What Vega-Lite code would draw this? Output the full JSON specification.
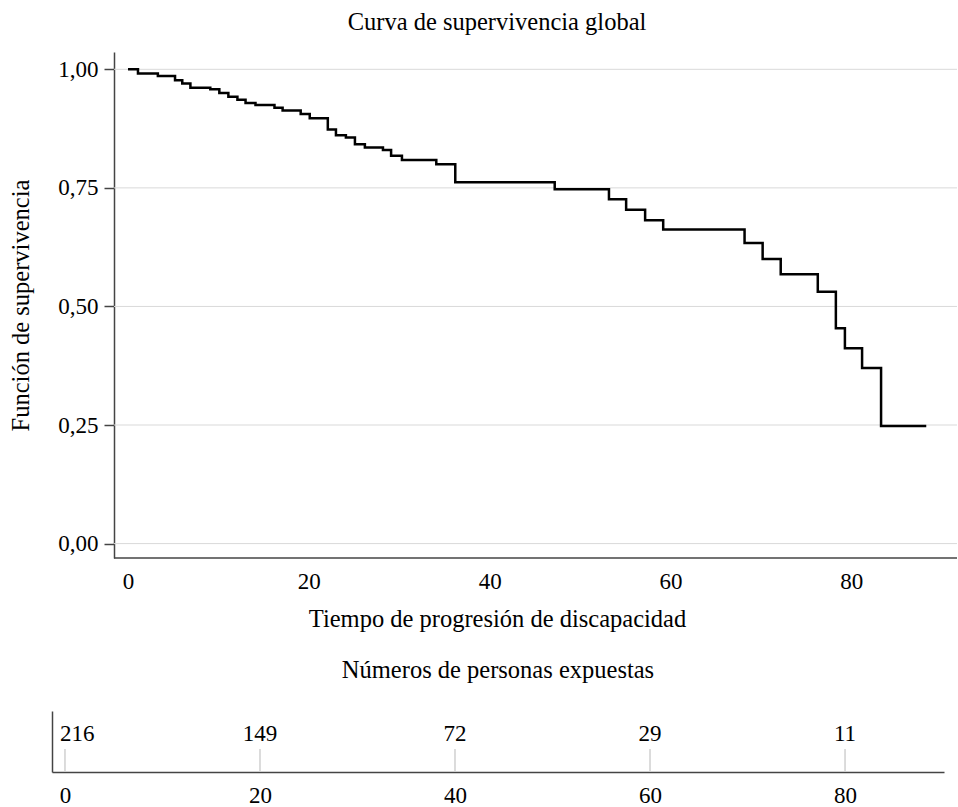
{
  "$schema": "https://vega.github.io/schema/vega-lite/v6.json",
  "padding": {"left": 8, "top": 9, "right": 0, "bottom": 0},
  "background": "white",
  "spacing": 26,
  "config": {
    "font": "Liberation Serif",
    "view": {"stroke": null},
    "axis": {
      "labelFontSize": 23,
      "titleFontSize": 24.5,
      "titleFontWeight": "normal",
      "labelColor": "black",
      "titleColor": "black",
      "domainColor": "#444",
      "tickColor": "#444",
      "domainWidth": 1.5,
      "tickWidth": 1.5
    },
    "title": {"fontSize": 24.5, "fontWeight": "normal", "color": "black"}
  },
  "vconcat": [
    {
      "width": 905,
      "height": 506,
      "title": {"text": "Curva de supervivencia global", "offset": 17, "dx": -7.5},
      "layer": [
        {
          "data": {"values": [{"s": 0}, {"s": 0.25}, {"s": 0.5}, {"s": 0.75}, {"s": 1}]},
          "mark": {"type": "rule", "color": "#d9d9d9", "strokeWidth": 1},
          "encoding": {
            "y": {"field": "s", "type": "quantitative"},
            "x": {"datum": -1.55, "type": "quantitative"},
            "x2": {"datum": 91.7}
          }
        },
        {
          "data": {"values": [{}]},
          "mark": {"type": "rule", "color": "#444", "strokeWidth": 1.5},
          "encoding": {
            "y": {"datum": -0.0304, "type": "quantitative"},
            "x": {"datum": -1.55, "type": "quantitative"},
            "x2": {"datum": 91.7}
          }
        },
        {
          "data": {
            "values": [
              {"t": 0, "s": 1.0},
              {"t": 1.1, "s": 0.991},
              {"t": 3.3, "s": 0.986},
              {"t": 5.2, "s": 0.977},
              {"t": 6.0, "s": 0.970},
              {"t": 6.9, "s": 0.961},
              {"t": 9.1, "s": 0.958},
              {"t": 10.1, "s": 0.950},
              {"t": 11.1, "s": 0.942},
              {"t": 12.1, "s": 0.936},
              {"t": 13.0, "s": 0.929},
              {"t": 14.1, "s": 0.925},
              {"t": 16.2, "s": 0.919},
              {"t": 17.1, "s": 0.913},
              {"t": 19.1, "s": 0.906},
              {"t": 20.1, "s": 0.897},
              {"t": 22.1, "s": 0.873},
              {"t": 23.0, "s": 0.861},
              {"t": 24.1, "s": 0.856},
              {"t": 25.1, "s": 0.842},
              {"t": 26.2, "s": 0.835},
              {"t": 28.2, "s": 0.830},
              {"t": 29.1, "s": 0.818},
              {"t": 30.3, "s": 0.809},
              {"t": 34.1, "s": 0.800},
              {"t": 36.2, "s": 0.762},
              {"t": 47.2, "s": 0.747},
              {"t": 53.2, "s": 0.726},
              {"t": 55.1, "s": 0.704},
              {"t": 57.2, "s": 0.682},
              {"t": 59.2, "s": 0.662},
              {"t": 68.2, "s": 0.634},
              {"t": 70.2, "s": 0.600},
              {"t": 72.2, "s": 0.568},
              {"t": 76.3, "s": 0.531},
              {"t": 78.3, "s": 0.454},
              {"t": 79.3, "s": 0.412},
              {"t": 81.2, "s": 0.370},
              {"t": 83.3, "s": 0.248},
              {"t": 88.3, "s": 0.248}
            ]
          },
          "mark": {"type": "line", "interpolate": "step-after", "color": "black", "strokeWidth": 2.5},
          "encoding": {
            "x": {
              "field": "t",
              "type": "quantitative",
              "scale": {"domain": [-8.41, 91.7], "nice": false, "zero": false},
              "axis": {
                "values": [0, 20, 40, 60, 80],
                "ticks": false,
                "grid": false,
                "domain": false,
                "title": "Tiempo de progresión de discapacidad",
                "titleX": 445,
                "labelPadding": 12,
                "titlePadding": 14
              }
            },
            "y": {
              "field": "s",
              "type": "quantitative",
              "scale": {"domain": [-0.0304, 1.0365], "nice": false, "zero": false},
              "axis": {
                "values": [0, 0.25, 0.5, 0.75, 1],
                "labelExpr": "replace(format(datum.value, '.2f'), '.', ',')",
                "offset": -62,
                "tickSize": 10,
                "labelPadding": 6,
                "grid": false,
                "title": "Función de supervivencia",
                "titlePadding": 24
              }
            }
          }
        }
      ]
    },
    {
      "width": 892,
      "height": 61,
      "title": {"text": "Números de personas expuestas", "offset": 28},
      "data": {
        "values": [
          {"t": 0, "n": 216},
          {"t": 20, "n": 149},
          {"t": 40, "n": 72},
          {"t": 60, "n": 29},
          {"t": 80, "n": 11}
        ]
      },
      "encoding": {
        "x": {
          "field": "t",
          "type": "quantitative",
          "scale": {"domain": [-1.33, 90.15], "nice": false, "zero": false},
          "axis": {"values": [0, 20, 40, 60, 80], "ticks": false, "grid": false, "title": null, "labelPadding": 12}
        }
      },
      "layer": [
        {
          "mark": {"type": "rule", "color": "#d0d0d0", "strokeWidth": 1.5},
          "encoding": {
            "y": {
              "datum": 0,
              "type": "quantitative",
              "scale": {"domain": [0, 1], "nice": false, "zero": false},
              "axis": {"title": null, "labels": false, "ticks": false, "grid": false, "domain": true}
            },
            "y2": {"datum": 0.377}
          }
        },
        {
          "transform": [{"filter": "datum.t > 0"}],
          "mark": {"type": "text", "fontSize": 23, "baseline": "middle", "color": "black"},
          "encoding": {"y": {"datum": 0.623, "type": "quantitative"}, "text": {"field": "n", "type": "quantitative"}}
        },
        {
          "transform": [{"filter": "datum.t == 0"}],
          "mark": {"type": "text", "fontSize": 23, "baseline": "middle", "align": "left", "dx": -5, "color": "black"},
          "encoding": {"y": {"datum": 0.623, "type": "quantitative"}, "text": {"field": "n", "type": "quantitative"}}
        }
      ]
    }
  ]
}
